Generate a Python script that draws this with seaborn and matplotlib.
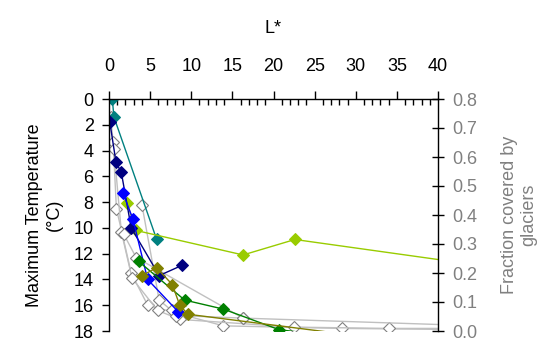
import matplotlib
matplotlib.use('Agg')
import matplotlib.pyplot as plt
import seaborn as sns
from matplotlib.ticker import MultipleLocator

# L* vs maximum temperature, one list pair per series
teal_L = [0.4, 0.6, 5.8]
teal_T = [0.0, 1.4, 10.9]

ygreen_L = [2.2, 3.3, 16.3, 22.6, 45.0]
ygreen_T = [8.1, 10.2, 12.1, 10.9, 12.9]

navy_L = [0.1, 0.85, 1.5, 2.7, 6.1, 8.9]
navy_T = [1.8, 4.9, 5.7, 10.0, 13.7, 12.9]

blue_L = [1.7, 2.9, 4.7, 8.4]
blue_T = [7.3, 9.3, 14.0, 16.5]

green_L = [3.6, 9.2, 13.9, 20.7, 24.6]
green_T = [12.6, 15.6, 16.3, 17.9, 18.2]

olive_L = [4.0, 5.8, 7.7, 8.6, 9.6, 28.1]
olive_T = [13.7, 13.1, 14.4, 16.0, 16.7, 18.2]

gray1_L = [0.2, 0.5, 0.9, 2.7, 4.7, 13.9, 28.3, 45.0]
gray1_T = [1.4, 3.3, 8.5, 13.5, 16.0, 17.6, 17.8, 17.9]
gray2_L = [0.6, 1.5, 2.8, 5.9, 8.6, 22.5, 34.0, 45.0]
gray2_T = [3.9, 10.3, 13.9, 16.4, 17.1, 17.7, 17.8, 17.8]
gray3_L = [4.0, 6.1, 7.6, 8.2, 16.3, 45.0]
gray3_T = [8.2, 15.6, 16.4, 16.8, 17.0, 17.6]
gray4_L = [1.8, 3.3, 16.3]
gray4_T = [10.5, 12.3, 17.0]

x_ticks = [0, 5, 10, 15, 20, 25, 30, 35, 40]
t_ticks = [0, 2, 4, 6, 8, 10, 12, 14, 16, 18]
frac_ticks = [0.0, 0.1, 0.2, 0.3, 0.4, 0.5, 0.6, 0.7, 0.8]

sns.set_style('white')
plt.rcParams['font.family'] = ['Liberation Sans', 'DejaVu Sans']
plt.rcParams['text.color'] = 'black'
plt.rcParams['axes.labelcolor'] = 'black'
plt.rcParams['xtick.color'] = 'black'
plt.rcParams['ytick.color'] = 'black'
FS = 13

fig = plt.figure(figsize=(5.53, 3.54), dpi=100)
ax = fig.add_axes([109 / 553, 23 / 354, 329 / 553, 232 / 354])

gray_series = [(gray1_L, gray1_T), (gray2_L, gray2_T), (gray3_L, gray3_T), (gray4_L, gray4_T)]
for gl, gt in gray_series:
    last = len(gl) - 1 if gl[-1] > 40 else len(gl)
    sns.lineplot(x=gl, y=gt, ax=ax, sort=False, estimator=None, color='#C0C0C0',
                 linewidth=1, marker='D', markersize=6, markerfacecolor='white',
                 markeredgecolor='#808080', markeredgewidth=0.8,
                 markevery=list(range(last)))

colored = [(teal_L, teal_T, '#008080'), (ygreen_L, ygreen_T, '#99CC00'),
           (navy_L, navy_T, '#000080'), (blue_L, blue_T, '#0000FF'),
           (green_L, green_T, '#008000'), (olive_L, olive_T, '#808000')]
for cl, ct, c in colored:
    # the last point of the long series only carries the line off the chart
    last = len(cl) - 1 if ct[-1] > 18 or cl[-1] > 40 else len(cl)
    sns.lineplot(x=cl, y=ct, ax=ax, sort=False, estimator=None, color=c,
                 linewidth=1, marker='D', markersize=6, markeredgecolor=c,
                 markevery=list(range(last)))

ax.set_xlim(0, 40)
ax.set_ylim(18, 0)
ax.xaxis.tick_top()
ax.xaxis.set_label_position('top')
ax.set_xticks(x_ticks)
ax.xaxis.set_minor_locator(MultipleLocator(1))
ax.set_yticks(t_ticks)
ax.tick_params(axis='x', which='major', direction='out', length=6, width=1,
               labelsize=FS, pad=11, top=True, bottom=False)
ax.tick_params(axis='x', which='minor', direction='in', length=4, width=1,
               top=True, bottom=False)
ax.tick_params(axis='y', which='major', direction='out', length=5, width=1,
               labelsize=FS, pad=6, left=True)
ax.set_xlabel('L*', fontsize=FS, labelpad=18)
ax.set_ylabel('Maximum Temperature\n(°C)', fontsize=FS, labelpad=8)
for side in ['bottom', 'right']:
    ax.spines[side].set_visible(False)
for side in ['top', 'left']:
    ax.spines[side].set_color('black')
    ax.spines[side].set_linewidth(1)

ax2 = ax.twinx()
ax2.set_ylim(0, 0.8)
ax2.set_yticks(frac_ticks)
ax2.set_yticklabels([f'{v:.1f}' for v in frac_ticks])
ax2.tick_params(axis='y', direction='inout', length=8, width=1, labelsize=FS,
                labelcolor='#808080', pad=6, right=True)
ax2.set_ylabel('Fraction covered by\nglaciers', fontsize=FS, color='#808080', labelpad=17)
for side in ['top', 'bottom', 'left']:
    ax2.spines[side].set_visible(False)
ax2.spines['right'].set_color('black')
ax2.spines['right'].set_linewidth(1)
ax2.grid(False)
ax.grid(False)

fig.savefig('out.png', dpi=100)
